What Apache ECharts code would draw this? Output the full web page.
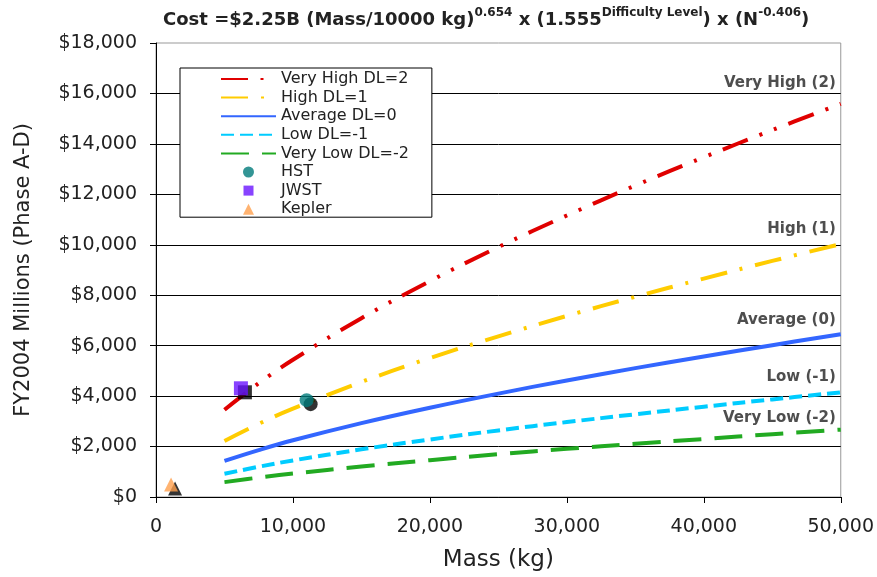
<!DOCTYPE html>
<html>
<head>
<meta charset="utf-8">
<script src="https://cdn.jsdelivr.net/npm/echarts@6/dist/echarts.min.js"></script>
<style>html,body{margin:0;padding:0;background:#fff;}#c{width:877px;height:577px;}</style>
</head>
<body>
<div id="c"></div>
<script>
// ---- data ----
var massKg = [5000, 7500, 10000, 15000, 20000, 25000, 30000, 35000, 40000, 45000, 50000];
var veryHighDL2 = [3460, 4510, 5440, 7090, 8560, 9910, 11160, 12350, 13470, 14550, 15590];
var highDL1 = [2220, 2900, 3500, 4560, 5510, 6370, 7180, 7940, 8660, 9360, 10030];
var averageDL0 = [1430, 1860, 2250, 2930, 3540, 4100, 4620, 5110, 5570, 6020, 6450];
var lowDLm1 = [920, 1200, 1450, 1890, 2280, 2640, 2970, 3280, 3580, 3870, 4150];
var veryLowDLm2 = [590, 770, 930, 1210, 1460, 1700, 1910, 2110, 2300, 2490, 2670];

var hstPoint = [11000, 3840];
var jwstPoint = [6200, 4310];
var keplerPoint = [1100, 500];

var curveLabelNames = ['Very High (2)', 'High (1)', 'Average (0)', 'Low (-1)', 'Very Low (-2)'];
var curveLabelCost = [16420, 10640, 7000, 4750, 3130];
var curveLabelMass = 50000;

var seriesNames = ['Very High DL=2', 'High DL=1', 'Average DL=0', 'Low DL=-1', 'Very Low DL=-2', 'HST', 'JWST', 'Kepler'];

function pairs(xs, ys) { return xs.map(function (x, i) { return [x, ys[i]]; }); }

var FONT = 'DejaVu Sans';
var chart = echarts.init(document.getElementById('c'), null, { renderer: 'canvas' });

function lineSeries(name, values, color, dash) {
  return {
    name: name, type: 'line', data: pairs(massKg, values), smooth: 0.4,
    symbol: 'none', showSymbol: false,
    lineStyle: { color: color, width: 4, type: dash, cap: 'butt' },
    itemStyle: { color: color }, z: 3
  };
}
function pointSeries(name, pt, symbol, size, color) {
  return [{
    name: name + '_shadow', type: 'scatter', data: [pt], symbol: symbol, symbolSize: size,
    symbolOffset: [4, 4], itemStyle: { color: '#000' }, z: 4, silent: true
  }, {
    name: name, type: 'scatter', data: [pt], symbol: symbol, symbolSize: size, symbolKeepAspect: true,
    itemStyle: { color: color }, z: 5
  }];
}

var series = [
  lineSeries(seriesNames[0], veryHighDL2, '#e00000', [27, 12.5, 3, 12.5, 3, 12.5]),
  lineSeries(seriesNames[1], highDL1, '#ffcc00', [27, 13, 3, 13]),
  lineSeries(seriesNames[2], averageDL0, '#3366ff', 'solid'),
  lineSeries(seriesNames[3], lowDLm1, '#00ccff', [13, 6]),
  lineSeries(seriesNames[4], veryLowDLm2, '#22aa22', [28, 13])
].concat(
  pointSeries(seriesNames[5], hstPoint, 'circle', 14, '#007b7b'),
  pointSeries(seriesNames[6], jwstPoint, 'rect', 14, '#6a14ff'),
  pointSeries(seriesNames[7], keplerPoint, 'triangle', 14, '#ffa04d')
);

series.push({
  name: 'curveLabels', type: 'scatter', symbolSize: 0, silent: true, z: 6,
  data: curveLabelNames.map(function (n, i) { return { name: n, value: [curveLabelMass, curveLabelCost[i]] }; }),
  label: {
    show: true, position: 'left', distance: 5, formatter: '{b}',
    fontFamily: FONT, fontWeight: 'bold', fontSize: 15, color: '#222'
  }
});

// legend icons: the padded paths keep the 55x12 icon box at 1:1 so the marker is not stretched
var legendIcons = {
  'HST': 'path://M0,0M55,12M27.5,0.5A5.5,5.5 0 1 1 27.49,0.5Z',
  'JWST': 'path://M0,0M55,12M22.5,1H32.5V11H22.5Z',
  'Kepler': 'path://M0,0M55,12M27.5,0.5L33,11.5L22,11.5Z'
};
var legendData = seriesNames.map(function (n, i) {
  return i < 5 ? { name: n, itemStyle: { opacity: 0 } } : { name: n, icon: legendIcons[n] };
});

chart.setOption({
  animation: false,
  backgroundColor: '#fff',
  title: {
    left: 158, top: 2,
    text: '{b|Cost =$2.25B (Mass/10000 kg)}{s|0.654}{b| x (1.555}{s|Difficulty Level}{b|) x (N}{s|-0.406}{b|)}',
    textStyle: {
      rich: {
        b: { fontFamily: FONT, fontWeight: 'bold', fontSize: 18, color: '#222', lineHeight: 26 },
        s: { fontFamily: FONT, fontWeight: 'bold', fontSize: 12, color: '#222', lineHeight: 12, verticalAlign: 'top' }
      }
    }
  },
  legend: {
    data: legendData,
    orient: 'vertical', left: 180, top: 68,
    itemWidth: 55, itemHeight: 12, itemGap: 2.6,
    symbolKeepAspect: true,
    padding: [3, 23, 0, 40],
    borderColor: '#000', borderWidth: 1, backgroundColor: '#fff',
    textStyle: { fontFamily: FONT, fontSize: 16, color: '#222', lineHeight: 16 }
  },
  grid: { left: 156, right: 35, top: 43, bottom: 80, show: true, borderColor: '#999', borderWidth: 1, backgroundColor: 'transparent' },
  xAxis: {
    type: 'value', min: 0, max: 50000, interval: 10000,
    name: 'Mass (kg)', nameLocation: 'middle', nameGap: 52,
    nameTextStyle: { fontFamily: FONT, fontSize: 23, color: '#222' },
    axisLine: { show: true, lineStyle: { color: '#000', width: 1 } },
    axisTick: { show: true, length: 6, lineStyle: { color: '#000' } },
    axisLabel: { margin: 21, fontFamily: FONT, fontSize: 19, color: '#222',
      formatter: function (v) { return v.toLocaleString('en-US'); } },
    splitLine: { show: false }
  },
  yAxis: {
    type: 'value', min: 0, max: 18000, interval: 2000,
    name: 'FY2004 Millions (Phase A-D)', nameLocation: 'middle', nameGap: 122,
    nameTextStyle: { fontFamily: FONT, fontSize: 21, color: '#222' },
    axisLine: { show: true, lineStyle: { color: '#000', width: 1 } },
    axisTick: { show: true, length: 6, lineStyle: { color: '#000' } },
    axisLabel: { margin: 19, fontFamily: FONT, fontSize: 19, color: '#222',
      formatter: function (v) { return '$' + v.toLocaleString('en-US'); } },
    splitLine: { show: true, showMaxLine: false, lineStyle: { color: '#000', width: 1 } }
  },
  series: series
});
</script>
</body>
</html>
